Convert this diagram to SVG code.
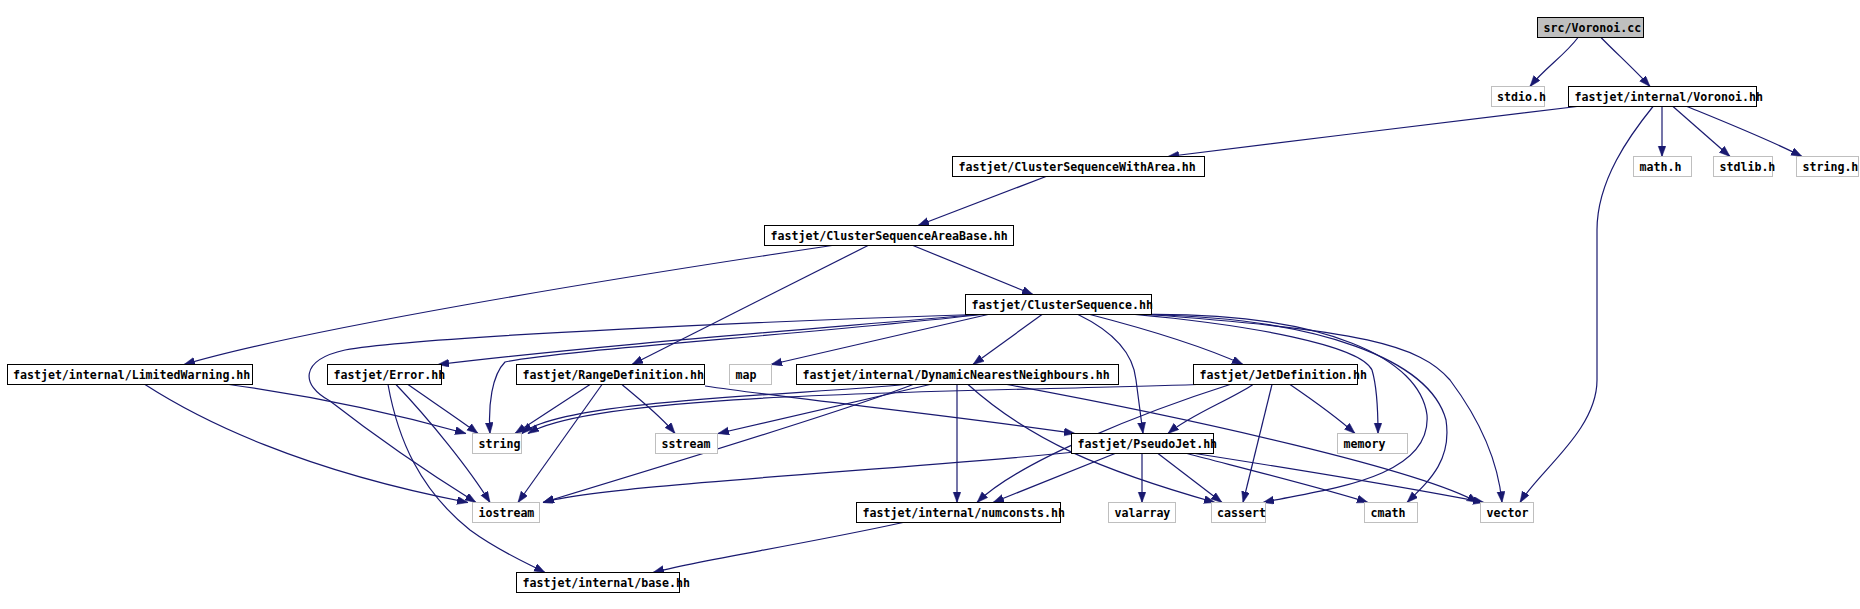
<svg xmlns="http://www.w3.org/2000/svg" width="1860" height="609" viewBox="0 0 1860 609">
<style>
.n rect{fill:#fff;stroke:#000;stroke-width:1}
.n.g rect{stroke:#bfbfbf}
.n.root rect{fill:#bfbfbf}
.n text{font-family:"DejaVu Sans Mono","Liberation Mono",monospace;font-size:11.6px;font-weight:bold;fill:#000}
#edges path{fill:none;stroke:#191970;stroke-width:1.2;marker-end:url(#ah)}
</style>
<defs>
<marker id="ah" markerUnits="userSpaceOnUse" markerWidth="13" markerHeight="9" refX="11" refY="4" orient="auto">
<path d="M0,0 L11,4 L0,8 z" fill="#191970" stroke="#191970" stroke-width="0.5"/>
</marker>
</defs>
<rect width="1860" height="609" fill="#fff"/>
<g id="edges">
<path d="M1578,37.5 C1565,55 1545,68 1530,86.5"/>
<path d="M1601,37.5 C1615,52 1635,70 1650,86.5"/>
<path d="M1577,106.5 C1450,122 1300,140 1168,156.5"/>
<path d="M1662,106.5 L1662,156.5"/>
<path d="M1673,106.5 L1730,156.5"/>
<path d="M1687,106.5 C1720,120 1770,140 1802,156.5"/>
<path d="M1653,106.5 C1630,135 1597,180 1597,230 L1597,380 C1597,430 1540,470 1520,502.5"/>
<path d="M1046,176.5 L918,225.5"/>
<path d="M832,245.5 C600,280 300,330 184,364.5"/>
<path d="M868,245.5 L632,364.5"/>
<path d="M913,245.5 L1033,294.5"/>
<path d="M975,314.5 C800,320 420,336 345,350 C300,360 300,385 330,401 C380,440 440,480 476,502.5"/>
<path d="M978,314.5 C800,330 600,345 438,364.5"/>
<path d="M982,314.5 C800,335 560,350 505,362 C492,375 488,405 490,433.5"/>
<path d="M988,314.5 L771,364.5"/>
<path d="M1042,314.5 L973,364.5"/>
<path d="M1078,314.5 C1110,330 1133,350 1136,380 L1143,433.5"/>
<path d="M1090,314.5 C1150,330 1200,345 1243,364.5"/>
<path d="M1135,314.5 C1250,325 1360,345 1372,370 C1378,390 1378,420 1378,433.5"/>
<path d="M1140,314.5 C1330,312 1420,360 1427,415 C1432,480 1320,490 1263,502.5"/>
<path d="M1145,314.5 C1320,318 1430,360 1446,420 C1452,460 1430,480 1407,502.5"/>
<path d="M1148,314.5 C1360,330 1420,345 1450,380 C1480,420 1498,460 1502,502.5"/>
<path d="M229,384.5 C320,397 400,415 466,433.5"/>
<path d="M145,384.5 C200,420 300,470 468,502.5"/>
<path d="M408,384.5 C430,400 460,420 478,433.5"/>
<path d="M396,384.5 C430,420 470,470 490,502.5"/>
<path d="M388,384.5 C398,440 420,490 470,530 C500,552 525,562 545,572.5"/>
<path d="M590,384.5 L515,433.5"/>
<path d="M602,384.5 L518,502.5"/>
<path d="M622,384.5 C640,400 660,415 675,433.5"/>
<path d="M705,386 C800,400 950,415 1075,433.5"/>
<path d="M905,384.5 C800,395 560,400 522,433.5"/>
<path d="M930,384.5 L718,433.5"/>
<path d="M913,384.5 C860,405 700,455 543,502.5"/>
<path d="M957,384.5 L957,502.5"/>
<path d="M968,384.5 C1030,440 1100,470 1215,502.5"/>
<path d="M1007,384.5 C1200,420 1420,470 1478,502.5"/>
<path d="M1197,384.5 C1000,392 600,390 528,433.5"/>
<path d="M1230,384.5 C1150,410 1020,460 977,502.5"/>
<path d="M1253,384.5 C1230,400 1190,415 1168,433.5"/>
<path d="M1272,384.5 L1243,502.5"/>
<path d="M1290,384.5 C1320,405 1340,420 1355,433.5"/>
<path d="M1075,452 C900,470 600,485 543,502.5"/>
<path d="M1115,453.5 L993,502.5"/>
<path d="M1142,453.5 L1142,502.5"/>
<path d="M1158,453.5 L1222,502.5"/>
<path d="M1187,453.5 C1250,470 1330,490 1368,502.5"/>
<path d="M1195,453.5 C1300,470 1420,490 1484,502.5"/>
<path d="M903,522.5 C800,545 700,560 653,572.5"/>
</g>
<g id="n_voronoi_cc" class="n root"><rect x="1537.5" y="17.5" width="106" height="20"/><text x="1543.5" y="31.8">src/Voronoi.cc</text></g>
<g id="n_stdio_h" class="n g"><rect x="1491.5" y="86.5" width="53" height="20"/><text x="1497" y="100.8">stdio.h</text></g>
<g id="n_voronoi_hh" class="n"><rect x="1568.5" y="86.5" width="188" height="20"/><text x="1574.5" y="100.8">fastjet/internal/Voronoi.hh</text></g>
<g id="n_math_h" class="n g"><rect x="1633.5" y="156.5" width="58" height="20"/><text x="1639.5" y="170.8">math.h</text></g>
<g id="n_stdlib_h" class="n g"><rect x="1713.5" y="156.5" width="59" height="20"/><text x="1719.5" y="170.8">stdlib.h</text></g>
<g id="n_string_h" class="n g"><rect x="1796.5" y="156.5" width="62" height="20"/><text x="1802.5" y="170.8">string.h</text></g>
<g id="n_cswa" class="n"><rect x="952.5" y="156.5" width="252" height="20"/><text x="958.5" y="170.8">fastjet/ClusterSequenceWithArea.hh</text></g>
<g id="n_csab" class="n"><rect x="764.5" y="225.5" width="249" height="20"/><text x="770.5" y="239.8">fastjet/ClusterSequenceAreaBase.hh</text></g>
<g id="n_cs" class="n"><rect x="965.5" y="294.5" width="186" height="20"/><text x="971.5" y="308.8">fastjet/ClusterSequence.hh</text></g>
<g id="n_lw" class="n"><rect x="7.5" y="364.5" width="245" height="20"/><text x="13" y="378.8">fastjet/internal/LimitedWarning.hh</text></g>
<g id="n_err" class="n"><rect x="327.5" y="364.5" width="114" height="20"/><text x="333.5" y="378.8">fastjet/Error.hh</text></g>
<g id="n_rd" class="n"><rect x="516.5" y="364.5" width="188" height="20"/><text x="522.5" y="378.8">fastjet/RangeDefinition.hh</text></g>
<g id="n_map" class="n g"><rect x="729.5" y="364.5" width="42" height="20"/><text x="735.5" y="378.8">map</text></g>
<g id="n_dnn" class="n"><rect x="796.5" y="364.5" width="322" height="20"/><text x="802.5" y="378.8">fastjet/internal/DynamicNearestNeighbours.hh</text></g>
<g id="n_jd" class="n"><rect x="1193.5" y="364.5" width="164" height="20"/><text x="1199.5" y="378.8">fastjet/JetDefinition.hh</text></g>
<g id="n_string" class="n g"><rect x="472.5" y="433.5" width="49" height="20"/><text x="478.5" y="447.8">string</text></g>
<g id="n_sstream" class="n g"><rect x="655.5" y="433.5" width="62" height="20"/><text x="661.5" y="447.8">sstream</text></g>
<g id="n_pj" class="n"><rect x="1071.5" y="433.5" width="142" height="20"/><text x="1077.5" y="447.8">fastjet/PseudoJet.hh</text></g>
<g id="n_memory" class="n g"><rect x="1337.5" y="433.5" width="70" height="20"/><text x="1343.5" y="447.8">memory</text></g>
<g id="n_iostream" class="n g"><rect x="472.5" y="502.5" width="67" height="20"/><text x="478.5" y="516.8">iostream</text></g>
<g id="n_numc" class="n"><rect x="856.5" y="502.5" width="204" height="20"/><text x="862.5" y="516.8">fastjet/internal/numconsts.hh</text></g>
<g id="n_valarray" class="n g"><rect x="1108.5" y="502.5" width="67" height="20"/><text x="1114.5" y="516.8">valarray</text></g>
<g id="n_cassert" class="n g"><rect x="1211.5" y="502.5" width="54" height="20"/><text x="1217" y="516.8">cassert</text></g>
<g id="n_cmath" class="n g"><rect x="1364.5" y="502.5" width="53" height="20"/><text x="1370.5" y="516.8">cmath</text></g>
<g id="n_vector" class="n g"><rect x="1480.5" y="502.5" width="53" height="20"/><text x="1486.5" y="516.8">vector</text></g>
<g id="n_base" class="n"><rect x="516.5" y="572.5" width="163" height="20"/><text x="522.5" y="586.8">fastjet/internal/base.hh</text></g>
</svg>
